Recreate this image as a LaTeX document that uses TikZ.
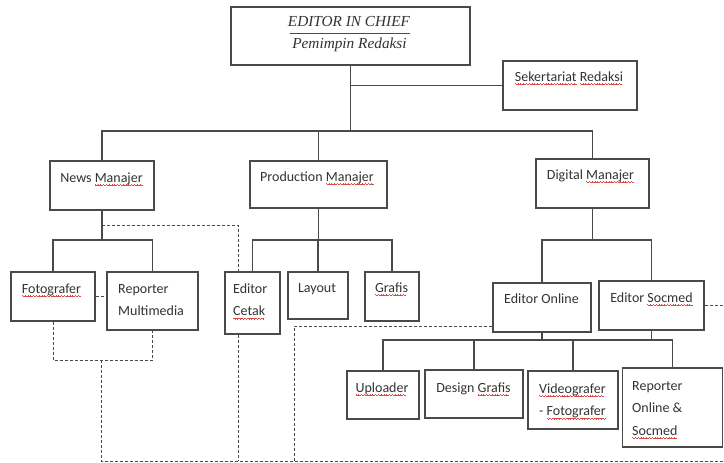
\documentclass[tikz,border=0pt]{standalone}
\usepackage{fontspec}
\setmainfont{Carlito}
\newfontfamily\titlefont{Liberation Serif}
\usetikzlibrary{calc}
\definecolor{sqred}{HTML}{E04848}
\definecolor{linec}{HTML}{4A4A4A}
\definecolor{textc}{HTML}{333333}
\newcommand\sq[1]{\leavevmode\setbox0\hbox{#1}\rlap{\hbox to\wd0{\color{sqred}\leaders\hbox{\rule[-2.6pt]{0.7pt}{0.6pt}\rule[-3.1pt]{0.7pt}{0.6pt}\rule[-3.6pt]{0.7pt}{0.6pt}\rule[-3.1pt]{0.7pt}{0.6pt}}\hfil}}\box0\relax}
\begin{document}
\begin{tikzpicture}[x=1pt,y=-1pt,
  box/.style={draw=linec, line width=1.3pt, rectangle, inner sep=0pt},
  lbl/.style={font=\fontsize{14}{22.5}\selectfont, text=textc, inner sep=0pt},
  ttl/.style={font=\titlefont\itshape\fontsize{15.3}{18}\selectfont, text=textc, inner sep=0pt},
  conn/.style={draw=linec, line width=1.2pt},
  dline/.style={draw=linec, line width=1pt, dash pattern=on 3pt off 2pt}]
\fill[white] (0,0) rectangle (724,463);
\useasboundingbox (0,0) rectangle (724,463);

% boxes
\node[box, minimum width=239pt, minimum height=58pt] (eic) at (350.5,36) {};
\node[box, minimum width=134pt, minimum height=49pt] (sek) at (570,85.5) {};
\node[box, minimum width=104pt, minimum height=49pt] (news) at (102,185.5) {};
\node[box, minimum width=137pt, minimum height=47pt] (prod) at (318.5,184.5) {};
\node[box, minimum width=113pt, minimum height=49pt] (dig) at (592.5,183.5) {};
\node[box, minimum width=84pt, minimum height=49pt] (foto) at (53,296.5) {};
\node[box, minimum width=91pt, minimum height=58pt] (repm) at (152.5,301) {};
\node[box, minimum width=55pt, minimum height=62pt] (cetak) at (252.5,303) {};
\node[box, minimum width=60pt, minimum height=47pt] (layout) at (318,295.5) {};
\node[box, minimum width=54pt, minimum height=49pt] (grafis) at (392,296.5) {};
\node[box, minimum width=98pt, minimum height=49pt] (eonl) at (542,307.5) {};
\node[box, minimum width=105pt, minimum height=49pt] (esoc) at (651.5,305.5) {};
\node[box, minimum width=72pt, minimum height=48pt] (upl) at (383,395) {};
\node[box, minimum width=98pt, minimum height=48pt] (dgraf) at (474,394) {};
\node[box, minimum width=90pt, minimum height=58pt] (video) at (573,400) {};
\node[box, minimum width=100pt, minimum height=79pt] (repo) at (672.5,407.5) {};

% texts
\node[ttl, anchor=base] (eict) at (349,27) {EDITOR IN CHIEF};
\node[ttl, anchor=base] (eicb) at (349.5,48) {Pemimpin Redaksi};
\draw[draw=linec, line width=0.9pt] (290,33) -- (410,33);
\node[lbl, anchor=base] (sekt) at (569,81) {\sq{Sekertariat} \sq{Redaksi}};
\node[lbl, anchor=base] (newst) at (101.5,182) {News \sq{Manajer}};
\node[lbl, anchor=base] (prodt) at (317,181) {Production \sq{Manajer}};
\node[lbl, anchor=base] (digt) at (590.5,179) {Digital \sq{Manajer}};
\node[lbl, anchor=base] (fotot) at (51.5,293) {\sq{Fotografer}};
\node[lbl, anchor=base west, align=left] (repmt) at (118,315.5) {Reporter\\Multimedia};
\node[lbl, anchor=base west, align=left] (cetakt) at (233,315.5) {Editor\\\sq{Cetak}};
\node[lbl, anchor=base] (layoutt) at (317,292) {Layout};
\node[lbl, anchor=base] (grafist) at (391.5,292) {\sq{Grafis}};
\node[lbl, anchor=base] (eonlt) at (541.5,303) {Editor Online};
\node[lbl, anchor=base] (esoct) at (651.5,302) {Editor \sq{Socmed}};
\node[lbl, anchor=base] (uplt) at (382,392) {\sq{Uploader}};
\node[lbl, anchor=base] (dgraft) at (473.5,392) {Design \sq{Grafis}};
\node[lbl, anchor=base west, align=left] (videot) at (539,415.5) {\sq{Videografer}\\- \sq{Fotografer}};
\node[lbl, anchor=base west, align=left] (repot) at (632,435) {Reporter\\Online \&\\\sq{Socmed}};

% solid connectors
\coordinate (b1) at (351,131);
\draw[conn] (eic.south) -- (eic.south |- b1);
\draw[conn] (eic.south |- sek.west) -- (sek.west);
\draw[conn] (news.north) -- (news.north |- b1) -- (dig.north |- b1) -- (dig.north);
\draw[conn] (prod.north) -- (prod.north |- b1);

\coordinate (b2) at (0,240);
\draw[conn] (news.south) -- (news.south |- b2);
\draw[conn] (foto.north) -- (foto.north |- b2) -- (repm.north |- b2) -- (repm.north);
\draw[conn] (prod.south) -- (prod.south |- b2);
\draw[conn] (cetak.north) -- (cetak.north |- b2) -- (grafis.north |- b2) -- (grafis.north);
\draw[conn] (layout.north) -- (layout.north |- b2);
\draw[conn] (dig.south) -- (dig.south |- b2);
\draw[conn] (eonl.north) -- (eonl.north |- b2) -- (esoc.north |- b2) -- (esoc.north);

\coordinate (b3) at (0,340);
\draw[conn] (eonl.south) -- (eonl.south |- b3);
\draw[conn] (esoc.south) -- (esoc.south |- b3);
\draw[conn] (upl.north) -- (upl.north |- b3) -- (repo.north |- b3) -- (repo.north);
\draw[conn] (dgraf.north) -- (dgraf.north |- b3);
\draw[conn] (video.north) -- (video.north |- b3);

% dashed connectors
\coordinate (d1) at (102,225);
\coordinate (dc) at (238,0);
\coordinate (j1) at (101,360);
\coordinate (bot) at (724,461);
\coordinate (d3) at (294,326);
\draw[dline] (d1) -- (dc |- d1) -- (dc |- cetak.north);
\draw[dline] (foto.east) -- (repm.west |- foto.east);
\draw[dline] (foto.south) -- (foto.south |- j1) -- (repm.south |- j1) -- (repm.south);
\draw[dline] (j1) -- (j1 |- bot) -- (bot);
\draw[dline] (dc |- cetak.south) -- (dc |- bot);
\draw[dline] (d3 |- bot) -- (d3) -- (d3 -| eonl.west);
\draw[dline] (esoc.east) -- (esoc.east -| bot);
\end{tikzpicture}
\end{document}
